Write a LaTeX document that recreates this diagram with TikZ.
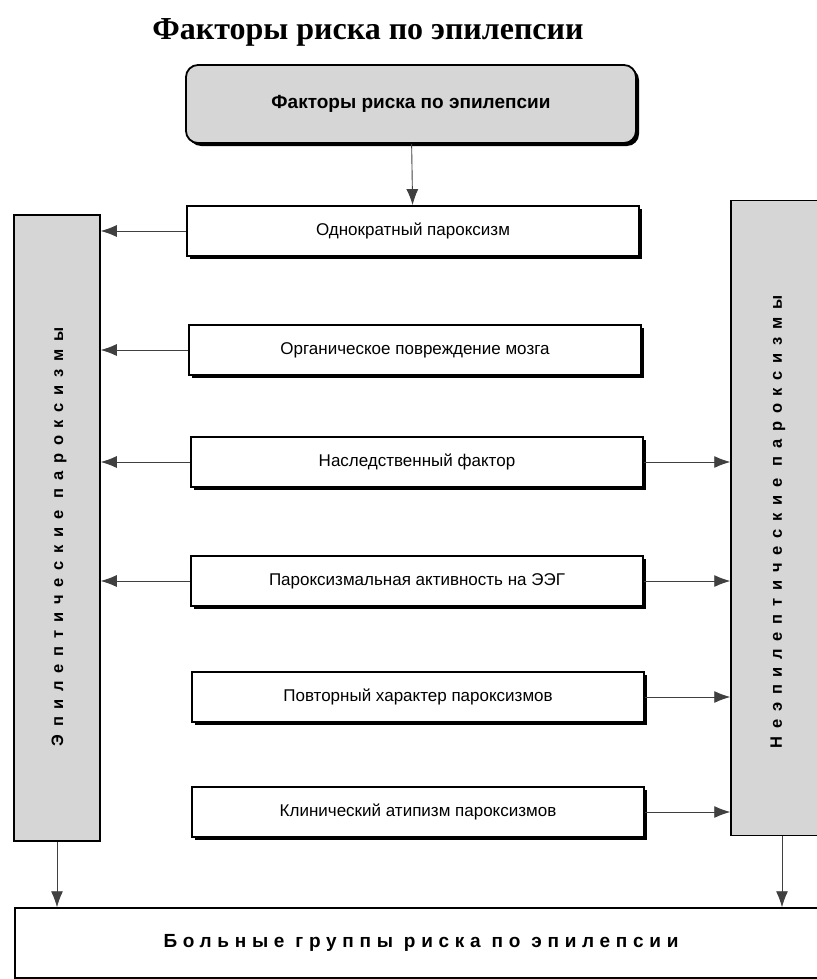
\documentclass[tikz,border=0pt]{standalone}
\usepackage{fontspec}
\setmainfont{Liberation Serif}
\newfontfamily\boxfont{Liberation Sans}
\newfontfamily\sidefont[LetterSpace=47]{Liberation Sans}
\newfontfamily\riskfont[LetterSpace=30]{Liberation Sans}
\usetikzlibrary{arrows.meta,shadows}
\definecolor{panelgray}{gray}{0.84}

\tikzset{
  factor/.style={draw, line width=1.8pt, fill=white, minimum width=452pt,
    minimum height=50pt, font=\boxfont\fontsize{17}{20}\selectfont,
    drop shadow={shadow xshift=3pt, shadow yshift=-3pt, opacity=1, fill=black}},
  column/.style={draw, line width=1.5pt, fill=panelgray, minimum width=90pt},
  sidelabel/.style={rotate=90, font=\sidefont\bfseries\fontsize{16.5}{18}\selectfont},
  link/.style={draw=black!75, line width=0.9pt, -{Latex[length=16pt,width=12pt]}}
}

\begin{document}
\begin{tikzpicture}[x=1pt, y=-1pt]
\useasboundingbox (0,0) rectangle (816,979);

\node[font=\bfseries\fontsize{32}{36}\selectfont] (title) at (368, 32) {Факторы риска по эпилепсии};

\node[draw, line width=1.8pt, fill=panelgray, rounded corners=12pt, minimum width=450pt, minimum height=78pt,
  font=\boxfont\bfseries\fontsize{19}{22}\selectfont,
  drop shadow={shadow xshift=3pt, shadow yshift=-3pt, opacity=1, fill=black}] (top) at (411, 104) {Факторы риска по эпилепсии};

\node[factor] (single) at (413, 231) {Однократный пароксизм};
\node[factor] (organic) at (415, 350) {Органическое повреждение мозга};
\node[factor] (heredity) at (417, 462) {Наследственный фактор};
\node[factor] (eeg) at (417, 581) {Пароксизмальная активность на ЭЭГ};
\node[factor] (repeat) at (418, 697) {Повторный характер пароксизмов};
\node[factor] (atypism) at (418, 812) {Клинический атипизм пароксизмов};

% side columns
\node[column, minimum width=86pt, minimum height=626pt] (epi) at (57, 528) {};
\node[sidelabel] (epitext) at (59, 537) {Эпилептические пароксизмы};
\node[column, minimum width=92pt, minimum height=635pt] (nonepi) at (777, 518) {};
\node[sidelabel] (nonepitext) at (778, 522) {Неэпилептические пароксизмы};

\node[draw, line width=1.5pt, fill=white, minimum width=816pt, minimum height=70pt] (risk) at (423, 943) {};
\node[font=\riskfont\bfseries\fontsize{19}{21}\selectfont] (risktext) at (421, 943) {Больные группы риска по эпилепсии};

\draw[link] (top) -- (single);

\draw[link] (single.west) -- (single.west -| epi.east);
\draw[link] (organic.west) -- (organic.west -| epi.east);
\draw[link] (heredity.west) -- (heredity.west -| epi.east);
\draw[link] (eeg.west) -- (eeg.west -| epi.east);

\draw[link] (heredity.east) -- (heredity.east -| nonepi.west);
\draw[link] (eeg.east) -- (eeg.east -| nonepi.west);
\draw[link] (repeat.east) -- (repeat.east -| nonepi.west);
\draw[link] (atypism.east) -- (atypism.east -| nonepi.west);

\draw[link] (epi.south) -- (epi.south |- risk.north);
\draw[link] ([xshift=5pt]nonepi.south) -- ([xshift=5pt]nonepi.south |- risk.north);
\end{tikzpicture}
\end{document}
